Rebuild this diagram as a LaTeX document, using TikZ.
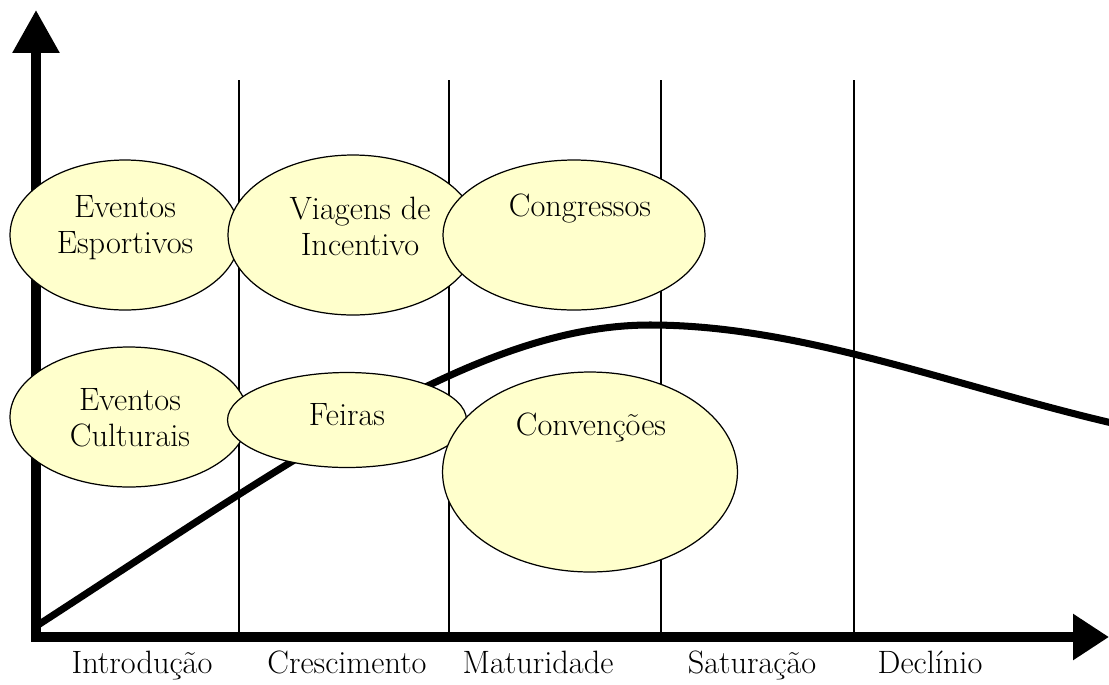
\documentclass[tikz,border=0pt]{standalone}
\usetikzlibrary{arrows.meta,shapes.geometric}
\begin{document}
\begin{tikzpicture}[x=0.02cm,y=-0.02cm,
  axis/.style={line width=5.2pt,
    {Triangle[length=0.86cm,width=0.9cm]}-{Triangle[length=0.72cm,width=0.88cm]}},
  phase/.style={line width=0.8pt},
  life/.style={line width=4pt,line cap=round},
  bubble/.style={ellipse,draw,line width=0.7pt,fill=bubblefill,inner sep=0pt},
  lbl/.style={align=center,font=\fontsize{18.4}{20.4}\selectfont},
  stage/.style={anchor=base,font=\fontsize{18.4}{20.4}\selectfont}]
\definecolor{bubblefill}{HTML}{FFFFCC}
\useasboundingbox (0,0) rectangle (1109,684);

% phase separators
\foreach \px/\nm in {239/a,449/b,661/c,854/d}{
  \coordinate (top\nm) at (\px,80);
  \coordinate (bot\nm) at (\px,637);
  \draw[phase] (top\nm) -- (bot\nm);
}

% axes
\coordinate (ytip) at (36,10);
\coordinate (origin) at (36,637);
\coordinate (xtip) at (1109,637);
\draw[axis] (ytip) -- (origin) -- (xtip);

% product life cycle curve
\coordinate (c0) at (38,625);
\coordinate (cpeak) at (650,325);
\coordinate (cend) at (1112,423);
\draw[life] (c0) .. controls (300,455) and (480,325) .. (cpeak)
  .. controls (800,325) and (950,385) .. (cend);

% event bubbles
\node[bubble,minimum width=4.6cm,minimum height=3cm] (esp) at (125,235) {};
\node[bubble,minimum width=5cm,minimum height=3.2cm] (via) at (353,235) {};
\node[bubble,minimum width=5.24cm,minimum height=3cm] (con) at (574,235) {};
\node[bubble,minimum width=4.76cm,minimum height=2.8cm] (cul) at (129,417) {};
\node[bubble,minimum width=4.78cm,minimum height=1.9cm] (fei) at (347,420) {};
\node[bubble,minimum width=5.9cm,minimum height=4cm] (cnv) at (590,472) {};

\node[lbl] at (125,228) {Eventos\\Esportivos};
\node[lbl] at (360,226) {Viagens de\\Incentivo};
\node[lbl] at (580,208) {Congressos};
\node[lbl] at (130,418) {Eventos\\Culturais};
\node[lbl] at (347,415) {Feiras};
\node[lbl] at (591,427) {Convenções};

% stage names
\node[stage] (s1) at (142,673) {Introdução};
\node[stage] (s2) at (347,673) {Crescimento};
\node[stage] (s3) at (538,673) {Maturidade};
\node[stage] (s4) at (752,673) {Saturação};
\node[stage] (s5) at (930,673) {Declínio};
\end{tikzpicture}
\end{document}
